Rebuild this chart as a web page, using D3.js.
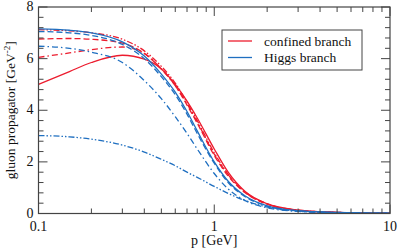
<!DOCTYPE html>
<html>
<head>
<meta charset="utf-8">
<script src="https://cdn.jsdelivr.net/npm/d3@7"></script>
<style>
  body { margin: 0; background: #fff; }
</style>
</head>
<body>
<svg width="399" height="250"></svg>
<script>
'use strict';

var momenta = [0.1, 0.15, 0.2, 0.3, 0.4, 0.5, 0.6, 0.7, 0.8, 1.0, 1.2, 1.5, 2, 3, 5, 10];

// confined branch (red)
var redSolid   = [5.00, 5.50, 5.85, 6.13, 5.98, 5.60, 5.00, 4.35, 3.70, 2.50, 1.60, 0.85, 0.38, 0.13, 0.045, 0.011];
var redDashed  = [6.76, 6.78, 6.75, 6.60, 6.20, 5.60, 4.95, 4.20, 3.50, 2.25, 1.45, 0.80, 0.36, 0.12, 0.042, 0.010];
var redDashDot = [6.05, 6.22, 6.35, 6.45, 6.20, 5.60, 4.95, 4.25, 3.55, 2.30, 1.50, 0.82, 0.37, 0.13, 0.043, 0.010];
var redDashDotDot = [7.12, 7.08, 7.00, 6.75, 6.30, 5.70, 5.05, 4.30, 3.60, 2.35, 1.52, 0.83, 0.37, 0.13, 0.043, 0.010];

// Higgs branch (blue)
var blueSolid  = [7.15, 7.10, 7.00, 6.65, 6.10, 5.40, 4.70, 3.95, 3.20, 2.00, 1.25, 0.68, 0.30, 0.11, 0.040, 0.010];
var blueDashed = [7.05, 7.00, 6.90, 6.55, 6.00, 5.30, 4.60, 3.85, 3.10, 1.95, 1.20, 0.65, 0.29, 0.10, 0.038, 0.009];
var blueDashDot = [6.48, 6.40, 6.25, 5.85, 5.15, 4.45, 3.75, 3.10, 2.50, 1.55, 0.95, 0.50, 0.22, 0.08, 0.030, 0.008];
var blueDashDotDot = [3.02, 2.97, 2.88, 2.65, 2.38, 2.10, 1.85, 1.60, 1.40, 1.05, 0.78, 0.50, 0.25, 0.09, 0.030, 0.008];

var xTicks = [0.1, 1, 10];
var yTicks = [0, 2, 4, 6, 8];
var legendLabels = ['confined branch', 'Higgs branch'];

var red = '#ec1c2e', blue = '#1f6fc0';
var series = [
  {values: redDashDotDot, color: red, dash: '6,2,1.5,2,1.5,2'},
  {values: redDashDot, color: red, dash: '6,3,1.5,3'},
  {values: redDashed, color: red, dash: '6,3'},
  {values: redSolid, color: red, dash: null},
  {values: blueDashDotDot, color: blue, dash: '6,2,1.5,2,1.5,2'},
  {values: blueDashDot, color: blue, dash: '6,3,1.5,3'},
  {values: blueDashed, color: blue, dash: '6,3'},
  {values: blueSolid, color: blue, dash: null}
];

var serif = '"Liberation Serif", "Times New Roman", Times, "DejaVu Serif", serif';
var margin = {top: 7, right: 9, bottom: 36.5, left: 38.5};
var svg = d3.select('svg').style('font-family', serif);
var W = 399 - margin.left - margin.right, H = 250 - margin.top - margin.bottom;

var x = d3.scaleLog().domain([0.1, 10]).range([0, W]);
var y = d3.scaleLinear().domain([0, 8]).range([H, 0]);

var g = svg.append('g').attr('transform', 'translate(' + margin.left + ',' + margin.top + ')');

var clip = g.append('clipPath').attr('id', 'clip');
clip.append('rect').attr('width', W).attr('height', H);

var line = d3.line()
  .x(function(d){ return x(d[0]); })
  .y(function(d){ return y(d[1]); })
  .curve(d3.curveMonotoneX);

g.append('g').attr('clip-path', 'url(#clip)')
  .selectAll('path')
    .data(series)
  .enter()
    .append('path')
    .attr('fill', 'none')
    .attr('stroke', function(d){ return d.color; })
    .attr('stroke-width', 1.3)
    .attr('stroke-dasharray', function(d){ return d.dash; })
    .attr('d', function(d){ return line(momenta.map(function(p, i){ return [p, d.values[i]]; })); });

// ticks (inward, on all four sides)
var xMinor = [];
[0.1, 1].forEach(function(dec){ for (var k = 2; k <= 9; k++) xMinor.push(dec * k); });
var yMinor = d3.range(0, 8.001, 0.4).filter(function(v){ return Math.abs(v / 2 - Math.round(v / 2)) > 1e-6; });

var axisColor = '#444';
var tickG = g.append('g').attr('stroke', axisColor).attr('stroke-width', 1);
function vtick(v, len){
  tickG.append('line').attr('x1', x(v)).attr('x2', x(v)).attr('y1', H).attr('y2', H - len);
  tickG.append('line').attr('x1', x(v)).attr('x2', x(v)).attr('y1', 0).attr('y2', len);
}
function htick(v, len){
  tickG.append('line').attr('y1', y(v)).attr('y2', y(v)).attr('x1', 0).attr('x2', len);
  tickG.append('line').attr('y1', y(v)).attr('y2', y(v)).attr('x1', W).attr('x2', W - len);
}
xTicks.forEach(function(v){ vtick(v, 9); });
xMinor.forEach(function(v){ vtick(v, 5); });
yTicks.forEach(function(v){ htick(v, 9); });
yMinor.forEach(function(v){ htick(v, 5); });

g.append('rect').attr('width', W).attr('height', H)
  .attr('fill', 'none').attr('stroke', axisColor).attr('stroke-width', 1.2);

// tick labels
g.selectAll('.xl').data(xTicks).enter().append('text')
  .attr('x', function(d){ return x(d); }).attr('y', H + 17)
  .attr('text-anchor', 'middle').attr('font-size', 14).attr('fill', '#111')
  .text(function(d){ return d; });
g.selectAll('.yl').data(yTicks).enter().append('text')
  .attr('x', -5).attr('y', function(d){ return y(d) + 4; })
  .attr('text-anchor', 'end').attr('font-size', 14).attr('fill', '#111')
  .text(function(d){ return d; });

// axis titles
g.append('text').attr('x', W / 2).attr('y', H + 31)
  .attr('text-anchor', 'middle').attr('font-size', 14).attr('fill', '#111').text('p [GeV]');
var yt = svg.append('text')
  .attr('transform', 'translate(15,' + (margin.top + H / 2) + ') rotate(-90)')
  .attr('text-anchor', 'middle').attr('font-size', 13.5).attr('fill', '#111');
yt.append('tspan').text('gluon propagator [GeV');
yt.append('tspan').attr('dy', -5).attr('font-size', 9).text('-2');
yt.append('tspan').attr('dy', 5).text(']');

// legend
var lg = svg.append('g').attr('transform', 'translate(222,30)');
lg.append('rect').attr('width', 140).attr('height', 40)
  .attr('fill', '#fff').attr('stroke', axisColor).attr('stroke-width', 1);
lg.selectAll('.li').data(legendLabels).enter().append('line')
  .attr('x1', 6).attr('x2', 30)
  .attr('y1', function(d, i){ return 11 + i * 16.5; })
  .attr('y2', function(d, i){ return 11 + i * 16.5; })
  .attr('stroke', function(d, i){ return i === 0 ? red : blue; })
  .attr('stroke-width', 1.3);
lg.selectAll('.lt').data(legendLabels).enter().append('text')
  .attr('x', 42).attr('y', function(d, i){ return 15.5 + i * 16.5; })
  .attr('font-size', 13.5).attr('fill', '#111').text(function(d){ return d; });
</script>
</body>
</html>
